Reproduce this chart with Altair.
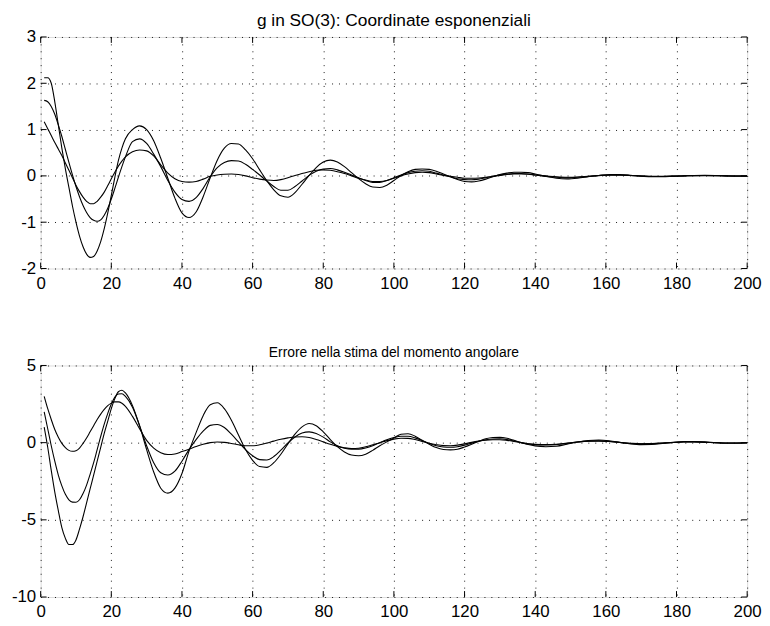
import altair as alt
import pandas as pd

# ---------------- data ----------------
T = [1, 2, 3, 4, 5, 6, 7, 8, 9, 10, 11, 12, 13, 14, 15, 16, 17, 18, 19, 20, 21, 22, 23, 24,
     26, 28, 30, 32, 34, 36, 38, 40, 42, 44, 46, 48, 50, 52, 54, 56, 58, 60, 62, 64, 66, 68,
     70, 72, 74, 76, 78, 80, 82, 84, 86, 88, 90, 92, 94, 96, 98, 100, 102, 104, 106, 108, 110,
     112, 114, 116, 118, 120, 122, 124, 126, 128, 130, 132, 134, 136, 138, 140, 143, 146, 149,
     152, 155, 158, 161, 164, 167, 170, 173, 176, 179, 182, 185, 188, 191, 194, 197, 200]

# top panel: exponential coordinates
top_a = [2.12, 2.12, 2.0, 1.6, 1.1, 0.6, 0.15, -0.25, -0.65, -1.0, -1.3, -1.53, -1.69, -1.76,
         -1.74, -1.62, -1.42, -1.14, -0.8, -0.42, -0.03, 0.33, 0.6, 0.8,
         1.0, 1.08, 1.0, 0.76, 0.38, -0.05, -0.48, -0.8, -0.9, -0.78, -0.45, -0.04, 0.34, 0.6,
         0.7, 0.69, 0.56, 0.37, 0.13, -0.1, -0.3, -0.43, -0.46, -0.36, -0.18, 0.01, 0.18, 0.3,
         0.34, 0.3, 0.2, 0.07, -0.06, -0.17, -0.24, -0.25, -0.2, -0.1, 0.01, 0.09, 0.14, 0.15,
         0.14, 0.1, 0.04, -0.02, -0.08, -0.12, -0.13, -0.11, -0.07, -0.02, 0.03, 0.06, 0.08,
         0.08, 0.07, 0.04, -0.01, -0.05, -0.065, -0.05, -0.02, 0.01, 0.03, 0.03, 0.015, -0.005,
         -0.02, -0.02, -0.01, 0.0, 0.01, 0.012, 0.008, 0.0, -0.005, -0.005]
top_b = [1.63, 1.6, 1.5, 1.33, 1.1, 0.85, 0.57, 0.29, 0.02, -0.23, -0.45, -0.64, -0.79, -0.9,
         -0.96, -0.98, -0.95, -0.85, -0.7, -0.5, -0.27, -0.03, 0.2, 0.41,
         0.74, 0.8, 0.7, 0.47, 0.2, -0.1, -0.35, -0.51, -0.55, -0.47, -0.27, -0.02, 0.18, 0.29,
         0.33, 0.32, 0.25, 0.14, 0.02, -0.11, -0.23, -0.31, -0.31, -0.23, -0.11, 0.01, 0.1,
         0.15, 0.16, 0.13, 0.08, 0.02, -0.04, -0.1, -0.14, -0.14, -0.1, -0.04, 0.02, 0.07, 0.1,
         0.11, 0.1, 0.06, 0.02, -0.02, -0.06, -0.08, -0.085, -0.07, -0.04, -0.01, 0.02, 0.04,
         0.05, 0.05, 0.04, 0.02, -0.01, -0.03, -0.04, -0.03, -0.01, 0.01, 0.02, 0.02, 0.01,
         -0.005, -0.012, -0.012, -0.005, 0.0, 0.006, 0.007, 0.004, 0.0, -0.003, -0.003]
top_c = [1.17, 1.02, 0.87, 0.72, 0.58, 0.44, 0.28, 0.12, -0.04, -0.2, -0.34, -0.46, -0.55, -0.6,
         -0.6, -0.55, -0.46, -0.35, -0.21, -0.06, 0.08, 0.21, 0.32, 0.41,
         0.52, 0.56, 0.54, 0.43, 0.24, 0.06, -0.06, -0.12, -0.135, -0.12, -0.07, -0.01, 0.02,
         0.035, 0.04, 0.03, 0.0, -0.04, -0.07, -0.09, -0.1, -0.08, -0.04, 0.01, 0.05, 0.09,
         0.12, 0.13, 0.12, 0.09, 0.05, 0.0, -0.05, -0.09, -0.12, -0.12, -0.1, -0.05, 0.0, 0.04,
         0.07, 0.08, 0.07, 0.04, 0.01, -0.01, -0.03, -0.05, -0.05, -0.045, -0.03, -0.01, 0.01,
         0.03, 0.04, 0.04, 0.035, 0.02, 0.0, -0.02, -0.03, -0.025, -0.01, 0.005, 0.015, 0.015,
         0.008, -0.002, -0.008, -0.008, -0.004, 0.0, 0.004, 0.005, 0.003, 0.0, -0.002, -0.002]

# bottom panel: angular momentum estimation error
bot_d = [1.0, -0.3, -1.8, -3.2, -4.4, -5.5, -6.2, -6.6, -6.6, -6.3, -5.6, -4.8, -3.9, -3.0,
         -2.1, -1.2, -0.3, 0.6, 1.4, 2.2, 2.85, 3.3, 3.4, 3.22,
         2.4, 1.1, -0.45, -1.9, -2.95, -3.27, -2.95, -2.0, -0.55, 0.65, 1.75, 2.45, 2.58, 2.2,
         1.45, 0.5, -0.45, -1.15, -1.55, -1.6, -1.3, -0.75, -0.08, 0.55, 1.02, 1.24, 1.1, 0.7,
         0.2, -0.26, -0.6, -0.8, -0.85, -0.75, -0.5, -0.2, 0.05, 0.3, 0.55, 0.58, 0.42, 0.15,
         -0.1, -0.32, -0.44, -0.47, -0.43, -0.28, -0.1, 0.09, 0.25, 0.33, 0.34, 0.28, 0.15,
         0.01, -0.12, -0.21, -0.26, -0.23, -0.1, 0.04, 0.14, 0.17, 0.12, 0.02, -0.08, -0.13,
         -0.12, -0.06, 0.02, 0.07, 0.08, 0.05, 0.0, -0.04, -0.04, -0.02]
bot_e = [2.0, 0.9, -0.2, -1.2, -2.1, -2.8, -3.35, -3.7, -3.85, -3.86, -3.7, -3.3, -2.75, -2.05,
         -1.3, -0.45, 0.4, 1.2, 1.9, 2.5, 2.95, 3.15, 3.17, 3.0,
         2.3, 1.1, -0.2, -1.3, -1.95, -2.1, -1.85, -1.2, -0.45, 0.2, 0.75, 1.12, 1.18, 0.98,
         0.55, 0.05, -0.45, -0.85, -1.1, -1.12, -0.9, -0.48, -0.02, 0.37, 0.62, 0.7, 0.6, 0.36,
         0.05, -0.2, -0.36, -0.43, -0.42, -0.34, -0.2, 0.0, 0.19, 0.33, 0.42, 0.42, 0.31, 0.13,
         -0.06, -0.2, -0.28, -0.3, -0.26, -0.16, -0.03, 0.09, 0.19, 0.24, 0.25, 0.2, 0.11, 0.0,
         -0.08, -0.13, -0.15, -0.13, -0.05, 0.04, 0.1, 0.12, 0.08, 0.01, -0.05, -0.08, -0.07,
         -0.03, 0.01, 0.04, 0.05, 0.03, 0.0, -0.02, -0.02, -0.01]
bot_f = [3.0, 2.2, 1.5, 0.85, 0.35, -0.05, -0.32, -0.5, -0.56, -0.52, -0.35, -0.05, 0.3, 0.7,
         1.1, 1.5, 1.85, 2.15, 2.4, 2.56, 2.64, 2.64, 2.55, 2.35,
         1.7, 0.9, 0.15, -0.35, -0.65, -0.77, -0.73, -0.58, -0.42, -0.25, -0.1, 0.0, 0.04, 0.02,
         -0.05, -0.14, -0.2, -0.2, -0.14, -0.03, 0.1, 0.22, 0.31, 0.37, 0.38, 0.33, 0.2, 0.05,
         -0.1, -0.24, -0.33, -0.38, -0.36, -0.27, -0.14, 0.0, 0.13, 0.23, 0.29, 0.28, 0.2, 0.08,
         -0.04, -0.13, -0.19, -0.2, -0.16, -0.08, 0.02, 0.1, 0.16, 0.19, 0.19, 0.15, 0.08, 0.0,
         -0.07, -0.11, -0.13, -0.1, -0.03, 0.04, 0.09, 0.1, 0.07, 0.01, -0.04, -0.07, -0.06,
         -0.03, 0.01, 0.04, 0.04, 0.02, 0.0, -0.02, -0.02, -0.01]

x_ticks = [0, 20, 40, 60, 80, 100, 120, 140, 160, 180, 200]
top_y_ticks = [-2, -1, 0, 1, 2, 3]
bot_y_ticks = [-10, -5, 0, 5]
top_title = "g in SO(3): Coordinate esponenziali"
bot_title = "Errore nella stima del momento angolare"

W, H = 714, 234
FONT = "Liberation Sans"
TICK = 6
LABEL_SIZE = 17
PLAIN = "'' + datum.value"   # hyphen-minus like the reference, not U+2212


def panel(title, series, ydom, yticks, title_size, title_offset):
    rows = []
    for name, vals in series.items():
        for t, v in zip(T, vals):
            rows.append({"t": t, "v": v, "s": name})
    df = pd.DataFrame(rows)
    xs = alt.Scale(domain=[0, 200], nice=False, zero=False)
    ys = alt.Scale(domain=ydom, nice=False, zero=False)

    lines = alt.Chart(df).mark_line(
        color="black", strokeWidth=1.1, interpolate="monotone", clip=True
    ).encode(
        x=alt.X("t:Q", scale=xs, title=None,
                axis=alt.Axis(values=x_ticks, grid=True, gridDash=[1, 6], gridColor="#000",
                              gridOpacity=0.9, tickSize=0, domain=False, labelPadding=7,
                              labelFlush=False, labelOverlap=False, labelFont=FONT,
                              labelFontSize=LABEL_SIZE, labelColor="black",
                              labelExpr=PLAIN)),
        y=alt.Y("v:Q", scale=ys, title=None,
                axis=alt.Axis(values=yticks, grid=True, gridDash=[1, 6], gridColor="#000",
                              gridOpacity=0.9, tickSize=0, domain=False, labelPadding=5,
                              labelOverlap=False, labelFont=FONT, labelFontSize=LABEL_SIZE,
                              labelColor="black", labelExpr=PLAIN)),
        detail="s:N",
    )

    xt = pd.DataFrame({"xt": x_ticks})
    yt = pd.DataFrame({"yt": yticks})
    xb = alt.Chart(xt).mark_rule(color="black", strokeWidth=1).encode(
        x=alt.X("xt:Q", scale=xs, title=None), y=alt.value(H), y2=alt.value(H - TICK))
    xtp = alt.Chart(xt).mark_rule(color="black", strokeWidth=1).encode(
        x=alt.X("xt:Q", scale=xs, title=None), y=alt.value(0), y2=alt.value(TICK))
    yl = alt.Chart(yt).mark_rule(color="black", strokeWidth=1).encode(
        y=alt.Y("yt:Q", scale=ys, title=None), x=alt.value(0), x2=alt.value(TICK))
    yr = alt.Chart(yt).mark_rule(color="black", strokeWidth=1).encode(
        y=alt.Y("yt:Q", scale=ys, title=None), x=alt.value(W), x2=alt.value(W - TICK))

    return alt.layer(lines, xb, xtp, yl, yr).properties(
        width=W, height=H,
        title=alt.TitleParams(title, font=FONT, fontSize=title_size, fontWeight="normal",
                              color="black", anchor="middle", offset=title_offset),
    )


top = panel(top_title, {"a": top_a, "b": top_b, "c": top_c}, [-2, 3], top_y_ticks, 17.5, -1)
bot = panel(bot_title, {"d": bot_d, "e": bot_e, "f": bot_f}, [-10, 5], bot_y_ticks, 14, -3)

chart = alt.vconcat(top, bot, spacing=53).configure_view(
    stroke="black", strokeWidth=1
).configure(background="white",
            padding={"left": 2, "top": 0, "right": 0, "bottom": 0})

chart.save("out.html", embed_options={"renderer": "svg", "actions": False})
